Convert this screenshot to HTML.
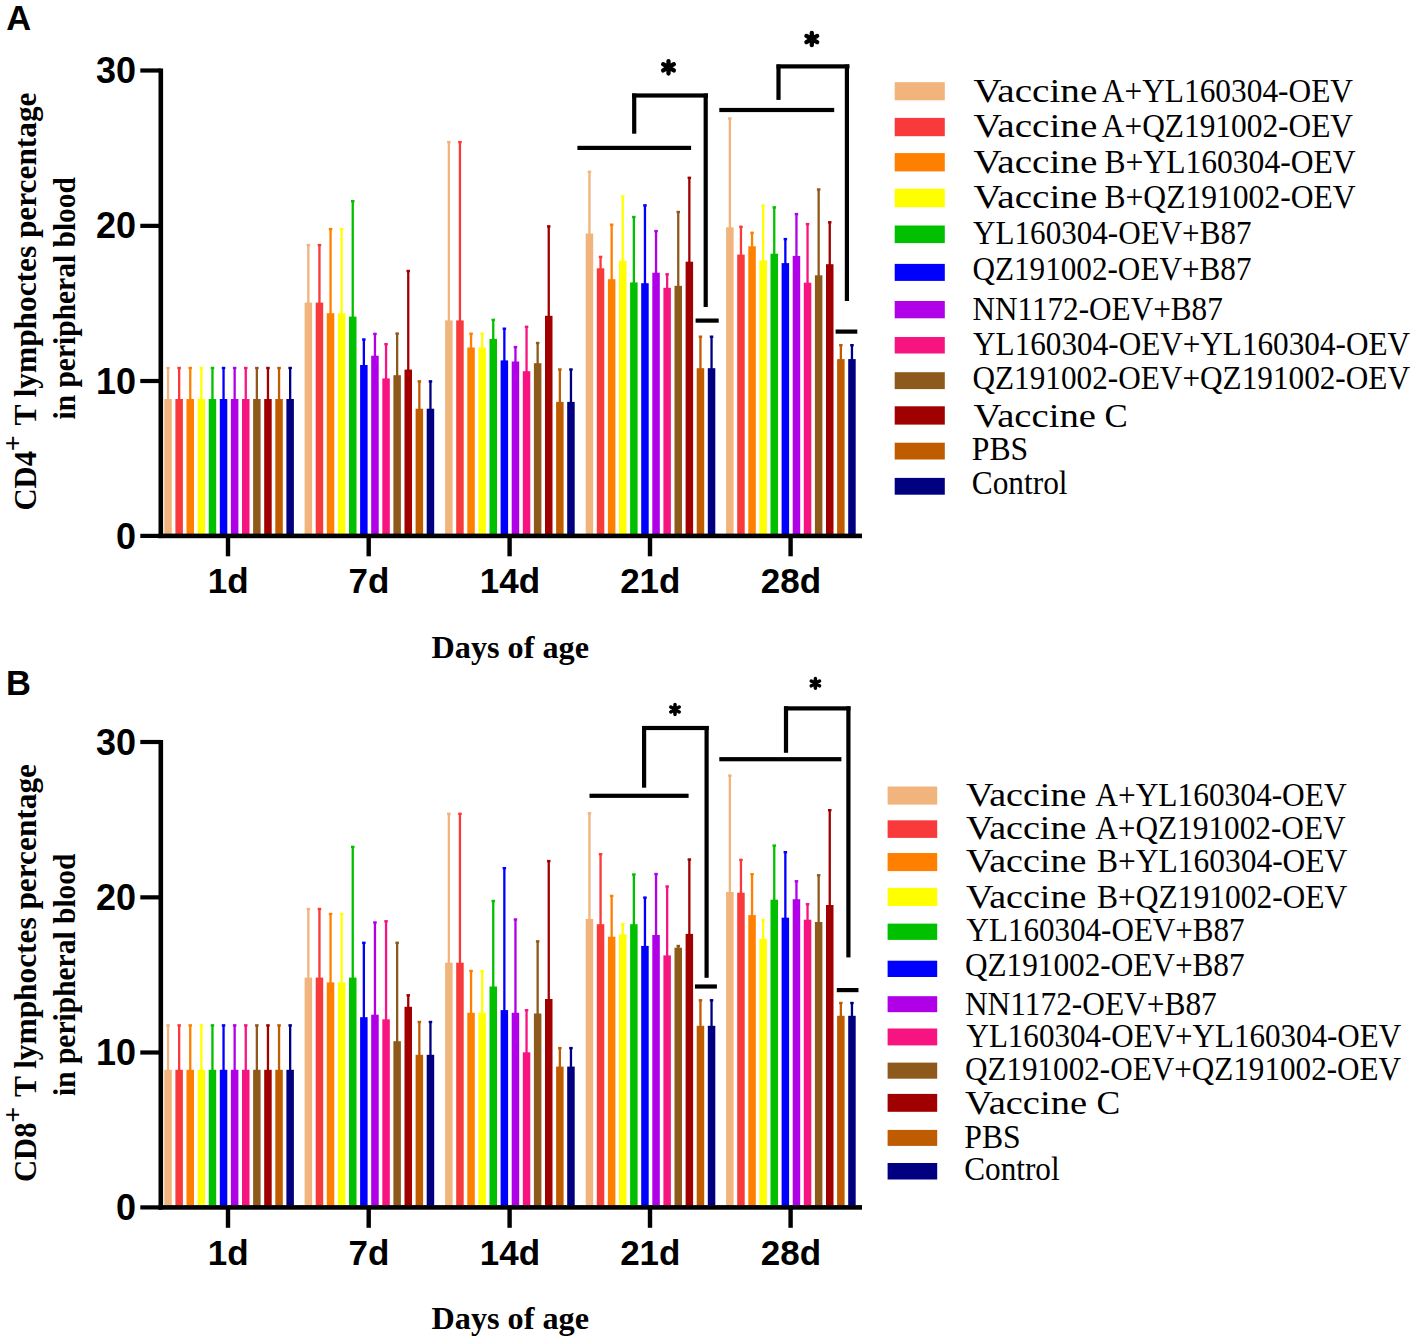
<!DOCTYPE html>
<html><head><meta charset="utf-8"><title>CD4/CD8 T lymphocytes chart</title><style>
html,body{margin:0;padding:0;background:#fff;}
svg{display:block;}
.tk{font-family:"Liberation Sans",sans-serif;font-weight:bold;font-size:36px;fill:#000;}
.xl{font-family:"Liberation Sans",sans-serif;font-weight:bold;font-size:35px;fill:#000;}
.pl{font-family:"Liberation Sans",sans-serif;font-weight:bold;font-size:34.5px;fill:#000;}
.ast{font-family:"Liberation Sans",sans-serif;font-weight:bold;font-size:34px;fill:#000;}
.lg{font-family:"Liberation Serif",serif;font-size:33px;fill:#000;}
.yl{font-family:"Liberation Serif",serif;font-weight:bold;font-size:31.5px;fill:#000;}
.sup{font-size:28px;}
.dl{font-family:"Liberation Serif",serif;font-weight:bold;font-size:32.5px;fill:#000;}
</style></head><body>
<svg width="1417" height="1343" viewBox="0 0 1417 1343">
<rect width="1417" height="1343" fill="#fff"/>
<rect x="166.9" y="367.4" width="2.3" height="32.6" fill="#F0B47C"/>
<rect x="166.3" y="366.8" width="3.5" height="2.4" fill="#F0B47C"/>
<rect x="164.3" y="399" width="7.5" height="135.2" fill="#F0B47C"/>
<rect x="178" y="367.4" width="2.3" height="32.6" fill="#F83A3A"/>
<rect x="177.4" y="366.8" width="3.5" height="2.4" fill="#F83A3A"/>
<rect x="175.4" y="399" width="7.5" height="135.2" fill="#F83A3A"/>
<rect x="189.1" y="367.4" width="2.3" height="32.6" fill="#FF8000"/>
<rect x="188.5" y="366.8" width="3.5" height="2.4" fill="#FF8000"/>
<rect x="186.5" y="399" width="7.5" height="135.2" fill="#FF8000"/>
<rect x="200.2" y="367.4" width="2.3" height="32.6" fill="#FFFF00"/>
<rect x="199.6" y="366.8" width="3.5" height="2.4" fill="#FFFF00"/>
<rect x="197.6" y="399" width="7.5" height="135.2" fill="#FFFF00"/>
<rect x="211.3" y="367.4" width="2.3" height="32.6" fill="#00C000"/>
<rect x="210.7" y="366.8" width="3.5" height="2.4" fill="#00C000"/>
<rect x="208.7" y="399" width="7.5" height="135.2" fill="#00C000"/>
<rect x="222.4" y="367.4" width="2.3" height="32.6" fill="#0000FF"/>
<rect x="221.8" y="366.8" width="3.5" height="2.4" fill="#0000FF"/>
<rect x="219.8" y="399" width="7.5" height="135.2" fill="#0000FF"/>
<rect x="233.5" y="367.4" width="2.3" height="32.6" fill="#B000E8"/>
<rect x="232.9" y="366.8" width="3.5" height="2.4" fill="#B000E8"/>
<rect x="230.9" y="399" width="7.5" height="135.2" fill="#B000E8"/>
<rect x="244.6" y="367.4" width="2.3" height="32.6" fill="#F81480"/>
<rect x="244" y="366.8" width="3.5" height="2.4" fill="#F81480"/>
<rect x="242" y="399" width="7.5" height="135.2" fill="#F81480"/>
<rect x="255.7" y="367.4" width="2.3" height="32.6" fill="#8E5A1C"/>
<rect x="255.1" y="366.8" width="3.5" height="2.4" fill="#8E5A1C"/>
<rect x="253.1" y="399" width="7.5" height="135.2" fill="#8E5A1C"/>
<rect x="266.8" y="367.4" width="2.3" height="32.6" fill="#A00000"/>
<rect x="266.2" y="366.8" width="3.5" height="2.4" fill="#A00000"/>
<rect x="264.2" y="399" width="7.5" height="135.2" fill="#A00000"/>
<rect x="277.9" y="367.4" width="2.3" height="32.6" fill="#C05C00"/>
<rect x="277.3" y="366.8" width="3.5" height="2.4" fill="#C05C00"/>
<rect x="275.3" y="399" width="7.5" height="135.2" fill="#C05C00"/>
<rect x="289" y="367.4" width="2.3" height="32.6" fill="#000080"/>
<rect x="288.4" y="366.8" width="3.5" height="2.4" fill="#000080"/>
<rect x="286.4" y="399" width="7.5" height="135.2" fill="#000080"/>
<rect x="307.2" y="244.5" width="2.3" height="59.1" fill="#F0B47C"/>
<rect x="306.6" y="243.9" width="3.5" height="2.4" fill="#F0B47C"/>
<rect x="304.6" y="302.6" width="7.5" height="231.6" fill="#F0B47C"/>
<rect x="318.3" y="244.5" width="2.3" height="59.1" fill="#F83A3A"/>
<rect x="317.7" y="243.9" width="3.5" height="2.4" fill="#F83A3A"/>
<rect x="315.7" y="302.6" width="7.5" height="231.6" fill="#F83A3A"/>
<rect x="329.4" y="228.5" width="2.3" height="85.7" fill="#FF8000"/>
<rect x="328.8" y="227.9" width="3.5" height="2.4" fill="#FF8000"/>
<rect x="326.8" y="313.2" width="7.5" height="221" fill="#FF8000"/>
<rect x="340.5" y="228.5" width="2.3" height="85.7" fill="#FFFF00"/>
<rect x="339.9" y="227.9" width="3.5" height="2.4" fill="#FFFF00"/>
<rect x="337.9" y="313.2" width="7.5" height="221" fill="#FFFF00"/>
<rect x="351.6" y="200.6" width="2.3" height="117" fill="#00C000"/>
<rect x="351" y="200" width="3.5" height="2.4" fill="#00C000"/>
<rect x="349" y="316.6" width="7.5" height="217.6" fill="#00C000"/>
<rect x="362.7" y="338.9" width="2.3" height="27.1" fill="#0000FF"/>
<rect x="362.1" y="338.3" width="3.5" height="2.4" fill="#0000FF"/>
<rect x="360.1" y="365" width="7.5" height="169.2" fill="#0000FF"/>
<rect x="373.8" y="333.3" width="2.3" height="23.4" fill="#B000E8"/>
<rect x="373.2" y="332.7" width="3.5" height="2.4" fill="#B000E8"/>
<rect x="371.2" y="355.7" width="7.5" height="178.5" fill="#B000E8"/>
<rect x="384.9" y="343.6" width="2.3" height="35.8" fill="#F81480"/>
<rect x="384.3" y="343" width="3.5" height="2.4" fill="#F81480"/>
<rect x="382.3" y="378.4" width="7.5" height="155.8" fill="#F81480"/>
<rect x="396" y="333" width="2.3" height="43.2" fill="#8E5A1C"/>
<rect x="395.4" y="332.4" width="3.5" height="2.4" fill="#8E5A1C"/>
<rect x="393.4" y="375.2" width="7.5" height="159" fill="#8E5A1C"/>
<rect x="407.1" y="270.4" width="2.3" height="100.2" fill="#A00000"/>
<rect x="406.5" y="269.8" width="3.5" height="2.4" fill="#A00000"/>
<rect x="404.5" y="369.6" width="7.5" height="164.6" fill="#A00000"/>
<rect x="418.2" y="380.8" width="2.3" height="28.9" fill="#C05C00"/>
<rect x="417.6" y="380.2" width="3.5" height="2.4" fill="#C05C00"/>
<rect x="415.6" y="408.7" width="7.5" height="125.5" fill="#C05C00"/>
<rect x="429.3" y="380.8" width="2.3" height="28.9" fill="#000080"/>
<rect x="428.7" y="380.2" width="3.5" height="2.4" fill="#000080"/>
<rect x="426.7" y="408.7" width="7.5" height="125.5" fill="#000080"/>
<rect x="447.7" y="141.5" width="2.3" height="179.9" fill="#F0B47C"/>
<rect x="447.1" y="140.9" width="3.5" height="2.4" fill="#F0B47C"/>
<rect x="445.1" y="320.4" width="7.5" height="213.8" fill="#F0B47C"/>
<rect x="458.8" y="141.5" width="2.3" height="179.9" fill="#F83A3A"/>
<rect x="458.2" y="140.9" width="3.5" height="2.4" fill="#F83A3A"/>
<rect x="456.2" y="320.4" width="7.5" height="213.8" fill="#F83A3A"/>
<rect x="469.9" y="333.1" width="2.3" height="15.4" fill="#FF8000"/>
<rect x="469.3" y="332.5" width="3.5" height="2.4" fill="#FF8000"/>
<rect x="467.3" y="347.5" width="7.5" height="186.7" fill="#FF8000"/>
<rect x="481" y="333.1" width="2.3" height="15.4" fill="#FFFF00"/>
<rect x="480.4" y="332.5" width="3.5" height="2.4" fill="#FFFF00"/>
<rect x="478.4" y="347.5" width="7.5" height="186.7" fill="#FFFF00"/>
<rect x="492.1" y="319.3" width="2.3" height="20.6" fill="#00C000"/>
<rect x="491.5" y="318.7" width="3.5" height="2.4" fill="#00C000"/>
<rect x="489.5" y="338.9" width="7.5" height="195.3" fill="#00C000"/>
<rect x="503.2" y="328.1" width="2.3" height="33.3" fill="#0000FF"/>
<rect x="502.6" y="327.5" width="3.5" height="2.4" fill="#0000FF"/>
<rect x="500.6" y="360.4" width="7.5" height="173.8" fill="#0000FF"/>
<rect x="514.3" y="346.5" width="2.3" height="16" fill="#B000E8"/>
<rect x="513.7" y="345.9" width="3.5" height="2.4" fill="#B000E8"/>
<rect x="511.7" y="361.5" width="7.5" height="172.7" fill="#B000E8"/>
<rect x="525.4" y="326.2" width="2.3" height="46" fill="#F81480"/>
<rect x="524.8" y="325.6" width="3.5" height="2.4" fill="#F81480"/>
<rect x="522.8" y="371.2" width="7.5" height="163" fill="#F81480"/>
<rect x="536.5" y="342.4" width="2.3" height="21.8" fill="#8E5A1C"/>
<rect x="535.9" y="341.8" width="3.5" height="2.4" fill="#8E5A1C"/>
<rect x="533.9" y="363.2" width="7.5" height="171" fill="#8E5A1C"/>
<rect x="547.6" y="225.8" width="2.3" height="91" fill="#A00000"/>
<rect x="547" y="225.2" width="3.5" height="2.4" fill="#A00000"/>
<rect x="545" y="315.8" width="7.5" height="218.4" fill="#A00000"/>
<rect x="558.7" y="368.9" width="2.3" height="34" fill="#C05C00"/>
<rect x="558.1" y="368.3" width="3.5" height="2.4" fill="#C05C00"/>
<rect x="556.1" y="401.9" width="7.5" height="132.3" fill="#C05C00"/>
<rect x="569.8" y="368.9" width="2.3" height="34" fill="#000080"/>
<rect x="569.2" y="368.3" width="3.5" height="2.4" fill="#000080"/>
<rect x="567.2" y="401.9" width="7.5" height="132.3" fill="#000080"/>
<rect x="588.3" y="171.2" width="2.3" height="63.3" fill="#F0B47C"/>
<rect x="587.7" y="170.6" width="3.5" height="2.4" fill="#F0B47C"/>
<rect x="585.7" y="233.5" width="7.5" height="300.7" fill="#F0B47C"/>
<rect x="599.4" y="256.3" width="2.3" height="13" fill="#F83A3A"/>
<rect x="598.8" y="255.7" width="3.5" height="2.4" fill="#F83A3A"/>
<rect x="596.8" y="268.3" width="7.5" height="265.9" fill="#F83A3A"/>
<rect x="610.5" y="224.1" width="2.3" height="56.1" fill="#FF8000"/>
<rect x="609.9" y="223.5" width="3.5" height="2.4" fill="#FF8000"/>
<rect x="607.9" y="279.2" width="7.5" height="255" fill="#FF8000"/>
<rect x="621.6" y="195.9" width="2.3" height="65.8" fill="#FFFF00"/>
<rect x="621" y="195.3" width="3.5" height="2.4" fill="#FFFF00"/>
<rect x="619" y="260.7" width="7.5" height="273.5" fill="#FFFF00"/>
<rect x="632.7" y="216.4" width="2.3" height="67" fill="#00C000"/>
<rect x="632.1" y="215.8" width="3.5" height="2.4" fill="#00C000"/>
<rect x="630.1" y="282.4" width="7.5" height="251.8" fill="#00C000"/>
<rect x="643.8" y="204.8" width="2.3" height="79.4" fill="#0000FF"/>
<rect x="643.2" y="204.2" width="3.5" height="2.4" fill="#0000FF"/>
<rect x="641.2" y="283.2" width="7.5" height="251" fill="#0000FF"/>
<rect x="654.9" y="230.5" width="2.3" height="43.2" fill="#B000E8"/>
<rect x="654.3" y="229.9" width="3.5" height="2.4" fill="#B000E8"/>
<rect x="652.3" y="272.7" width="7.5" height="261.5" fill="#B000E8"/>
<rect x="666" y="273.7" width="2.3" height="15.1" fill="#F81480"/>
<rect x="665.4" y="273.1" width="3.5" height="2.4" fill="#F81480"/>
<rect x="663.4" y="287.8" width="7.5" height="246.4" fill="#F81480"/>
<rect x="677.1" y="211.4" width="2.3" height="75.4" fill="#8E5A1C"/>
<rect x="676.5" y="210.8" width="3.5" height="2.4" fill="#8E5A1C"/>
<rect x="674.5" y="285.8" width="7.5" height="248.4" fill="#8E5A1C"/>
<rect x="688.2" y="177.2" width="2.3" height="85.5" fill="#A00000"/>
<rect x="687.6" y="176.6" width="3.5" height="2.4" fill="#A00000"/>
<rect x="685.6" y="261.7" width="7.5" height="272.5" fill="#A00000"/>
<rect x="699.3" y="336.1" width="2.3" height="33.1" fill="#C05C00"/>
<rect x="698.7" y="335.5" width="3.5" height="2.4" fill="#C05C00"/>
<rect x="696.7" y="368.2" width="7.5" height="166" fill="#C05C00"/>
<rect x="710.4" y="336.1" width="2.3" height="33.1" fill="#000080"/>
<rect x="709.8" y="335.5" width="3.5" height="2.4" fill="#000080"/>
<rect x="707.8" y="368.2" width="7.5" height="166" fill="#000080"/>
<rect x="728.7" y="117.9" width="2.3" height="110.4" fill="#F0B47C"/>
<rect x="728.1" y="117.3" width="3.5" height="2.4" fill="#F0B47C"/>
<rect x="726.1" y="227.3" width="7.5" height="306.9" fill="#F0B47C"/>
<rect x="739.8" y="226.2" width="2.3" height="29.4" fill="#F83A3A"/>
<rect x="739.2" y="225.6" width="3.5" height="2.4" fill="#F83A3A"/>
<rect x="737.2" y="254.6" width="7.5" height="279.6" fill="#F83A3A"/>
<rect x="750.9" y="232.2" width="2.3" height="15.1" fill="#FF8000"/>
<rect x="750.3" y="231.6" width="3.5" height="2.4" fill="#FF8000"/>
<rect x="748.3" y="246.3" width="7.5" height="287.9" fill="#FF8000"/>
<rect x="762" y="205" width="2.3" height="56.4" fill="#FFFF00"/>
<rect x="761.4" y="204.4" width="3.5" height="2.4" fill="#FFFF00"/>
<rect x="759.4" y="260.4" width="7.5" height="273.8" fill="#FFFF00"/>
<rect x="773.1" y="206.8" width="2.3" height="47.9" fill="#00C000"/>
<rect x="772.5" y="206.2" width="3.5" height="2.4" fill="#00C000"/>
<rect x="770.5" y="253.7" width="7.5" height="280.5" fill="#00C000"/>
<rect x="784.2" y="238.5" width="2.3" height="25.6" fill="#0000FF"/>
<rect x="783.6" y="237.9" width="3.5" height="2.4" fill="#0000FF"/>
<rect x="781.6" y="263.1" width="7.5" height="271.1" fill="#0000FF"/>
<rect x="795.3" y="213.5" width="2.3" height="43.4" fill="#B000E8"/>
<rect x="794.7" y="212.9" width="3.5" height="2.4" fill="#B000E8"/>
<rect x="792.7" y="255.9" width="7.5" height="278.3" fill="#B000E8"/>
<rect x="806.4" y="223.5" width="2.3" height="60.2" fill="#F81480"/>
<rect x="805.8" y="222.9" width="3.5" height="2.4" fill="#F81480"/>
<rect x="803.8" y="282.7" width="7.5" height="251.5" fill="#F81480"/>
<rect x="817.5" y="188.9" width="2.3" height="87.4" fill="#8E5A1C"/>
<rect x="816.9" y="188.3" width="3.5" height="2.4" fill="#8E5A1C"/>
<rect x="814.9" y="275.3" width="7.5" height="258.9" fill="#8E5A1C"/>
<rect x="828.6" y="221.7" width="2.3" height="43.5" fill="#A00000"/>
<rect x="828" y="221.1" width="3.5" height="2.4" fill="#A00000"/>
<rect x="826" y="264.2" width="7.5" height="270" fill="#A00000"/>
<rect x="839.7" y="344.6" width="2.3" height="15.5" fill="#C05C00"/>
<rect x="839.1" y="344" width="3.5" height="2.4" fill="#C05C00"/>
<rect x="837.1" y="359.1" width="7.5" height="175.1" fill="#C05C00"/>
<rect x="850.8" y="344.6" width="2.3" height="15.5" fill="#000080"/>
<rect x="850.2" y="344" width="3.5" height="2.4" fill="#000080"/>
<rect x="848.2" y="359.1" width="7.5" height="175.1" fill="#000080"/>
<rect x="158.5" y="68.5" width="4.6" height="469.6" fill="#000"/>
<rect x="158.5" y="533.6" width="703.5" height="4.6" fill="#000"/>
<rect x="140.3" y="68.4" width="20.5" height="4.2" fill="#000"/>
<text x="136" y="83.1" class="tk" text-anchor="end">30</text>
<rect x="140.3" y="223.75" width="20.5" height="4.2" fill="#000"/>
<text x="136" y="238.45" class="tk" text-anchor="end">20</text>
<rect x="140.3" y="378.9" width="20.5" height="4.2" fill="#000"/>
<text x="136" y="393.6" class="tk" text-anchor="end">10</text>
<rect x="140.3" y="533.8" width="20.5" height="4.2" fill="#000"/>
<text x="136" y="548.5" class="tk" text-anchor="end">0</text>
<rect x="225.8" y="535.9" width="4.4" height="20.4" fill="#000"/>
<text x="228.3" y="593.4" class="xl" text-anchor="middle">1d</text>
<rect x="366.5" y="535.9" width="4.4" height="20.4" fill="#000"/>
<text x="369" y="593.4" class="xl" text-anchor="middle">7d</text>
<rect x="507.4" y="535.9" width="4.4" height="20.4" fill="#000"/>
<text x="509.9" y="593.4" class="xl" text-anchor="middle">14d</text>
<rect x="647.8" y="535.9" width="4.4" height="20.4" fill="#000"/>
<text x="650.3" y="593.4" class="xl" text-anchor="middle">21d</text>
<rect x="788.4" y="535.9" width="4.4" height="20.4" fill="#000"/>
<text x="790.9" y="593.4" class="xl" text-anchor="middle">28d</text>
<rect x="577.4" y="145.8" width="113.7" height="4.2" fill="#000"/>
<rect x="632.1" y="93.5" width="4.2" height="40.2" fill="#000"/>
<rect x="632" y="93.4" width="76" height="4.2" fill="#000"/>
<rect x="703.6" y="93.5" width="4.2" height="213.5" fill="#000"/>
<rect x="695.6" y="318.5" width="23.1" height="4.2" fill="#000"/>
<path d="M668.5 61.1L668.5 73.5M663.13 64.2L673.87 70.4M663.13 70.4L673.87 64.2" stroke="#000" stroke-width="4.3" stroke-linecap="round" fill="none"/>
<rect x="719.3" y="107.9" width="114.9" height="4.2" fill="#000"/>
<rect x="776.4" y="64.5" width="4.2" height="35.4" fill="#000"/>
<rect x="776.5" y="64.3" width="73" height="4.2" fill="#000"/>
<rect x="844.8" y="64.5" width="4.2" height="236.5" fill="#000"/>
<rect x="835.6" y="329.5" width="21.7" height="4.2" fill="#000"/>
<path d="M811.8 32.8L811.8 45.2M806.43 35.9L817.17 42.1M806.43 42.1L817.17 35.9" stroke="#000" stroke-width="4.3" stroke-linecap="round" fill="none"/>
<text x="6.3" y="29.8" class="pl">A</text>
<rect x="894.7" y="82.2" width="50.1" height="18.1" fill="#F0B47C"/>
<text x="973.4" y="101.9" class="lg" textLength="123.9" lengthAdjust="spacingAndGlyphs">Vaccine</text>
<text x="1101.8" y="101.9" class="lg" textLength="251.2" lengthAdjust="spacingAndGlyphs">A+YL160304-OEV</text>
<rect x="894.7" y="117.9" width="50.1" height="18.3" fill="#F83A3A"/>
<text x="973.4" y="137.4" class="lg" textLength="123.9" lengthAdjust="spacingAndGlyphs">Vaccine</text>
<text x="1101.8" y="137.4" class="lg" textLength="251.2" lengthAdjust="spacingAndGlyphs">A+QZ191002-OEV</text>
<rect x="894.7" y="153.1" width="50.1" height="18.3" fill="#FF8000"/>
<text x="973.4" y="172.7" class="lg" textLength="123.9" lengthAdjust="spacingAndGlyphs">Vaccine</text>
<text x="1104.5" y="172.7" class="lg" textLength="251.1" lengthAdjust="spacingAndGlyphs">B+YL160304-OEV</text>
<rect x="894.7" y="188.7" width="50.1" height="18.5" fill="#FFFF00"/>
<text x="973.4" y="208.2" class="lg" textLength="123.9" lengthAdjust="spacingAndGlyphs">Vaccine</text>
<text x="1104.5" y="208.2" class="lg" textLength="251.1" lengthAdjust="spacingAndGlyphs">B+QZ191002-OEV</text>
<rect x="894.7" y="225.5" width="50.1" height="17.6" fill="#00C000"/>
<text x="973.1" y="243.9" class="lg" textLength="278.4" lengthAdjust="spacingAndGlyphs">YL160304-OEV+B87</text>
<rect x="894.7" y="263.9" width="50.1" height="17" fill="#0000FF"/>
<text x="972.4" y="280.3" class="lg" textLength="279.1" lengthAdjust="spacingAndGlyphs">QZ191002-OEV+B87</text>
<rect x="894.7" y="301" width="50.1" height="17.3" fill="#B000E8"/>
<text x="972.4" y="319.9" class="lg" textLength="250.4" lengthAdjust="spacingAndGlyphs">NN1172-OEV+B87</text>
<rect x="894.7" y="337" width="50.1" height="16.5" fill="#F81480"/>
<text x="973.1" y="354.6" class="lg" textLength="436.9" lengthAdjust="spacingAndGlyphs">YL160304-OEV+YL160304-OEV</text>
<rect x="894.7" y="372.2" width="50.1" height="16.9" fill="#8E5A1C"/>
<text x="972.4" y="389.2" class="lg" textLength="437.6" lengthAdjust="spacingAndGlyphs">QZ191002-OEV+QZ191002-OEV</text>
<rect x="894.7" y="406.3" width="50.1" height="18.3" fill="#A00000"/>
<text x="973.5" y="426.7" class="lg" textLength="122.5" lengthAdjust="spacingAndGlyphs">Vaccine</text>
<text x="1104.5" y="426.7" class="lg" textLength="23.2" lengthAdjust="spacingAndGlyphs">C</text>
<rect x="894.7" y="442.7" width="50.1" height="16.8" fill="#C05C00"/>
<text x="971.8" y="460.3" class="lg" textLength="56.4" lengthAdjust="spacingAndGlyphs">PBS</text>
<rect x="894.7" y="477.9" width="50.1" height="16.8" fill="#000080"/>
<text x="971.8" y="493.9" class="lg" textLength="95.7" lengthAdjust="spacingAndGlyphs">Control</text>
<text transform="translate(36,510.5) rotate(-90)" class="yl" textLength="59.5" lengthAdjust="spacingAndGlyphs">CD4</text>
<text transform="translate(21.5,451.3) rotate(-90)" class="yl sup">+</text>
<text transform="translate(36,425.5) rotate(-90)" class="yl" textLength="333" lengthAdjust="spacingAndGlyphs">T lymphoctes percentage</text>
<text transform="translate(75,419.5) rotate(-90)" class="yl" textLength="242.5" lengthAdjust="spacingAndGlyphs">in peripheral blood</text>
<text x="431.5" y="657.5" class="dl" textLength="157.5" lengthAdjust="spacingAndGlyphs">Days of age</text>
<rect x="166.9" y="1024.8" width="2.3" height="46" fill="#F0B47C"/>
<rect x="166.3" y="1024.2" width="3.5" height="2.4" fill="#F0B47C"/>
<rect x="164.3" y="1069.8" width="7.5" height="135.9" fill="#F0B47C"/>
<rect x="178" y="1024.8" width="2.3" height="46" fill="#F83A3A"/>
<rect x="177.4" y="1024.2" width="3.5" height="2.4" fill="#F83A3A"/>
<rect x="175.4" y="1069.8" width="7.5" height="135.9" fill="#F83A3A"/>
<rect x="189.1" y="1024.8" width="2.3" height="46" fill="#FF8000"/>
<rect x="188.5" y="1024.2" width="3.5" height="2.4" fill="#FF8000"/>
<rect x="186.5" y="1069.8" width="7.5" height="135.9" fill="#FF8000"/>
<rect x="200.2" y="1024.8" width="2.3" height="46" fill="#FFFF00"/>
<rect x="199.6" y="1024.2" width="3.5" height="2.4" fill="#FFFF00"/>
<rect x="197.6" y="1069.8" width="7.5" height="135.9" fill="#FFFF00"/>
<rect x="211.3" y="1024.8" width="2.3" height="46" fill="#00C000"/>
<rect x="210.7" y="1024.2" width="3.5" height="2.4" fill="#00C000"/>
<rect x="208.7" y="1069.8" width="7.5" height="135.9" fill="#00C000"/>
<rect x="222.4" y="1024.8" width="2.3" height="46" fill="#0000FF"/>
<rect x="221.8" y="1024.2" width="3.5" height="2.4" fill="#0000FF"/>
<rect x="219.8" y="1069.8" width="7.5" height="135.9" fill="#0000FF"/>
<rect x="233.5" y="1024.8" width="2.3" height="46" fill="#B000E8"/>
<rect x="232.9" y="1024.2" width="3.5" height="2.4" fill="#B000E8"/>
<rect x="230.9" y="1069.8" width="7.5" height="135.9" fill="#B000E8"/>
<rect x="244.6" y="1024.8" width="2.3" height="46" fill="#F81480"/>
<rect x="244" y="1024.2" width="3.5" height="2.4" fill="#F81480"/>
<rect x="242" y="1069.8" width="7.5" height="135.9" fill="#F81480"/>
<rect x="255.7" y="1024.8" width="2.3" height="46" fill="#8E5A1C"/>
<rect x="255.1" y="1024.2" width="3.5" height="2.4" fill="#8E5A1C"/>
<rect x="253.1" y="1069.8" width="7.5" height="135.9" fill="#8E5A1C"/>
<rect x="266.8" y="1024.8" width="2.3" height="46" fill="#A00000"/>
<rect x="266.2" y="1024.2" width="3.5" height="2.4" fill="#A00000"/>
<rect x="264.2" y="1069.8" width="7.5" height="135.9" fill="#A00000"/>
<rect x="277.9" y="1024.8" width="2.3" height="46" fill="#C05C00"/>
<rect x="277.3" y="1024.2" width="3.5" height="2.4" fill="#C05C00"/>
<rect x="275.3" y="1069.8" width="7.5" height="135.9" fill="#C05C00"/>
<rect x="289" y="1024.8" width="2.3" height="46" fill="#000080"/>
<rect x="288.4" y="1024.2" width="3.5" height="2.4" fill="#000080"/>
<rect x="286.4" y="1069.8" width="7.5" height="135.9" fill="#000080"/>
<rect x="307.2" y="908.4" width="2.3" height="70.2" fill="#F0B47C"/>
<rect x="306.6" y="907.8" width="3.5" height="2.4" fill="#F0B47C"/>
<rect x="304.6" y="977.6" width="7.5" height="228.1" fill="#F0B47C"/>
<rect x="318.3" y="908.4" width="2.3" height="70.2" fill="#F83A3A"/>
<rect x="317.7" y="907.8" width="3.5" height="2.4" fill="#F83A3A"/>
<rect x="315.7" y="977.6" width="7.5" height="228.1" fill="#F83A3A"/>
<rect x="329.4" y="913.4" width="2.3" height="70" fill="#FF8000"/>
<rect x="328.8" y="912.8" width="3.5" height="2.4" fill="#FF8000"/>
<rect x="326.8" y="982.4" width="7.5" height="223.3" fill="#FF8000"/>
<rect x="340.5" y="913.4" width="2.3" height="70" fill="#FFFF00"/>
<rect x="339.9" y="912.8" width="3.5" height="2.4" fill="#FFFF00"/>
<rect x="337.9" y="982.4" width="7.5" height="223.3" fill="#FFFF00"/>
<rect x="351.6" y="846.3" width="2.3" height="132.3" fill="#00C000"/>
<rect x="351" y="845.7" width="3.5" height="2.4" fill="#00C000"/>
<rect x="349" y="977.6" width="7.5" height="228.1" fill="#00C000"/>
<rect x="362.7" y="942.2" width="2.3" height="76" fill="#0000FF"/>
<rect x="362.1" y="941.6" width="3.5" height="2.4" fill="#0000FF"/>
<rect x="360.1" y="1017.2" width="7.5" height="188.5" fill="#0000FF"/>
<rect x="373.8" y="921.9" width="2.3" height="93.8" fill="#B000E8"/>
<rect x="373.2" y="921.3" width="3.5" height="2.4" fill="#B000E8"/>
<rect x="371.2" y="1014.7" width="7.5" height="191" fill="#B000E8"/>
<rect x="384.9" y="920.7" width="2.3" height="99.6" fill="#F81480"/>
<rect x="384.3" y="920.1" width="3.5" height="2.4" fill="#F81480"/>
<rect x="382.3" y="1019.3" width="7.5" height="186.4" fill="#F81480"/>
<rect x="396" y="942.2" width="2.3" height="100" fill="#8E5A1C"/>
<rect x="395.4" y="941.6" width="3.5" height="2.4" fill="#8E5A1C"/>
<rect x="393.4" y="1041.2" width="7.5" height="164.5" fill="#8E5A1C"/>
<rect x="407.1" y="994.7" width="2.3" height="13.1" fill="#A00000"/>
<rect x="406.5" y="994.1" width="3.5" height="2.4" fill="#A00000"/>
<rect x="404.5" y="1006.8" width="7.5" height="198.9" fill="#A00000"/>
<rect x="418.2" y="1021.4" width="2.3" height="34.4" fill="#C05C00"/>
<rect x="417.6" y="1020.8" width="3.5" height="2.4" fill="#C05C00"/>
<rect x="415.6" y="1054.8" width="7.5" height="150.9" fill="#C05C00"/>
<rect x="429.3" y="1021.4" width="2.3" height="34.4" fill="#000080"/>
<rect x="428.7" y="1020.8" width="3.5" height="2.4" fill="#000080"/>
<rect x="426.7" y="1054.8" width="7.5" height="150.9" fill="#000080"/>
<rect x="447.7" y="813.2" width="2.3" height="150.5" fill="#F0B47C"/>
<rect x="447.1" y="812.6" width="3.5" height="2.4" fill="#F0B47C"/>
<rect x="445.1" y="962.7" width="7.5" height="243" fill="#F0B47C"/>
<rect x="458.8" y="813.2" width="2.3" height="150.5" fill="#F83A3A"/>
<rect x="458.2" y="812.6" width="3.5" height="2.4" fill="#F83A3A"/>
<rect x="456.2" y="962.7" width="7.5" height="243" fill="#F83A3A"/>
<rect x="469.9" y="970.4" width="2.3" height="43.4" fill="#FF8000"/>
<rect x="469.3" y="969.8" width="3.5" height="2.4" fill="#FF8000"/>
<rect x="467.3" y="1012.8" width="7.5" height="192.9" fill="#FF8000"/>
<rect x="481" y="970.4" width="2.3" height="43.4" fill="#FFFF00"/>
<rect x="480.4" y="969.8" width="3.5" height="2.4" fill="#FFFF00"/>
<rect x="478.4" y="1012.8" width="7.5" height="192.9" fill="#FFFF00"/>
<rect x="492.1" y="900.4" width="2.3" height="87.1" fill="#00C000"/>
<rect x="491.5" y="899.8" width="3.5" height="2.4" fill="#00C000"/>
<rect x="489.5" y="986.5" width="7.5" height="219.2" fill="#00C000"/>
<rect x="503.2" y="867.6" width="2.3" height="143.5" fill="#0000FF"/>
<rect x="502.6" y="867" width="3.5" height="2.4" fill="#0000FF"/>
<rect x="500.6" y="1010.1" width="7.5" height="195.6" fill="#0000FF"/>
<rect x="514.3" y="918.9" width="2.3" height="94.9" fill="#B000E8"/>
<rect x="513.7" y="918.3" width="3.5" height="2.4" fill="#B000E8"/>
<rect x="511.7" y="1012.8" width="7.5" height="192.9" fill="#B000E8"/>
<rect x="525.4" y="1009.6" width="2.3" height="43.7" fill="#F81480"/>
<rect x="524.8" y="1009" width="3.5" height="2.4" fill="#F81480"/>
<rect x="522.8" y="1052.3" width="7.5" height="153.4" fill="#F81480"/>
<rect x="536.5" y="940.8" width="2.3" height="73.7" fill="#8E5A1C"/>
<rect x="535.9" y="940.2" width="3.5" height="2.4" fill="#8E5A1C"/>
<rect x="533.9" y="1013.5" width="7.5" height="192.2" fill="#8E5A1C"/>
<rect x="547.6" y="860.5" width="2.3" height="139.5" fill="#A00000"/>
<rect x="547" y="859.9" width="3.5" height="2.4" fill="#A00000"/>
<rect x="545" y="999" width="7.5" height="206.7" fill="#A00000"/>
<rect x="558.7" y="1047.5" width="2.3" height="20.1" fill="#C05C00"/>
<rect x="558.1" y="1046.9" width="3.5" height="2.4" fill="#C05C00"/>
<rect x="556.1" y="1066.6" width="7.5" height="139.1" fill="#C05C00"/>
<rect x="569.8" y="1047.5" width="2.3" height="20.1" fill="#000080"/>
<rect x="569.2" y="1046.9" width="3.5" height="2.4" fill="#000080"/>
<rect x="567.2" y="1066.6" width="7.5" height="139.1" fill="#000080"/>
<rect x="588.3" y="812.7" width="2.3" height="107.2" fill="#F0B47C"/>
<rect x="587.7" y="812.1" width="3.5" height="2.4" fill="#F0B47C"/>
<rect x="585.7" y="918.9" width="7.5" height="286.8" fill="#F0B47C"/>
<rect x="599.4" y="853.6" width="2.3" height="71.6" fill="#F83A3A"/>
<rect x="598.8" y="853" width="3.5" height="2.4" fill="#F83A3A"/>
<rect x="596.8" y="924.2" width="7.5" height="281.5" fill="#F83A3A"/>
<rect x="610.5" y="895.3" width="2.3" height="42.4" fill="#FF8000"/>
<rect x="609.9" y="894.7" width="3.5" height="2.4" fill="#FF8000"/>
<rect x="607.9" y="936.7" width="7.5" height="269" fill="#FF8000"/>
<rect x="621.6" y="923.5" width="2.3" height="11.9" fill="#FFFF00"/>
<rect x="621" y="922.9" width="3.5" height="2.4" fill="#FFFF00"/>
<rect x="619" y="934.4" width="7.5" height="271.3" fill="#FFFF00"/>
<rect x="632.7" y="873.9" width="2.3" height="51.3" fill="#00C000"/>
<rect x="632.1" y="873.3" width="3.5" height="2.4" fill="#00C000"/>
<rect x="630.1" y="924.2" width="7.5" height="281.5" fill="#00C000"/>
<rect x="643.8" y="897" width="2.3" height="49.9" fill="#0000FF"/>
<rect x="643.2" y="896.4" width="3.5" height="2.4" fill="#0000FF"/>
<rect x="641.2" y="945.9" width="7.5" height="259.8" fill="#0000FF"/>
<rect x="654.9" y="873.4" width="2.3" height="62.6" fill="#B000E8"/>
<rect x="654.3" y="872.8" width="3.5" height="2.4" fill="#B000E8"/>
<rect x="652.3" y="935" width="7.5" height="270.7" fill="#B000E8"/>
<rect x="666" y="885.9" width="2.3" height="70.5" fill="#F81480"/>
<rect x="665.4" y="885.3" width="3.5" height="2.4" fill="#F81480"/>
<rect x="663.4" y="955.4" width="7.5" height="250.3" fill="#F81480"/>
<rect x="677.1" y="945.4" width="2.3" height="3.3" fill="#8E5A1C"/>
<rect x="676.5" y="944.8" width="3.5" height="2.4" fill="#8E5A1C"/>
<rect x="674.5" y="947.7" width="7.5" height="258" fill="#8E5A1C"/>
<rect x="688.2" y="858.9" width="2.3" height="76" fill="#A00000"/>
<rect x="687.6" y="858.3" width="3.5" height="2.4" fill="#A00000"/>
<rect x="685.6" y="933.9" width="7.5" height="271.8" fill="#A00000"/>
<rect x="699.3" y="999.7" width="2.3" height="27.1" fill="#C05C00"/>
<rect x="698.7" y="999.1" width="3.5" height="2.4" fill="#C05C00"/>
<rect x="696.7" y="1025.8" width="7.5" height="179.9" fill="#C05C00"/>
<rect x="710.4" y="999.7" width="2.3" height="27.1" fill="#000080"/>
<rect x="709.8" y="999.1" width="3.5" height="2.4" fill="#000080"/>
<rect x="707.8" y="1025.8" width="7.5" height="179.9" fill="#000080"/>
<rect x="728.7" y="775" width="2.3" height="118" fill="#F0B47C"/>
<rect x="728.1" y="774.4" width="3.5" height="2.4" fill="#F0B47C"/>
<rect x="726.1" y="892" width="7.5" height="313.7" fill="#F0B47C"/>
<rect x="739.8" y="859.3" width="2.3" height="34.4" fill="#F83A3A"/>
<rect x="739.2" y="858.7" width="3.5" height="2.4" fill="#F83A3A"/>
<rect x="737.2" y="892.7" width="7.5" height="313" fill="#F83A3A"/>
<rect x="750.9" y="873.6" width="2.3" height="42.5" fill="#FF8000"/>
<rect x="750.3" y="873" width="3.5" height="2.4" fill="#FF8000"/>
<rect x="748.3" y="915.1" width="7.5" height="290.6" fill="#FF8000"/>
<rect x="762" y="919.7" width="2.3" height="20.2" fill="#FFFF00"/>
<rect x="761.4" y="919.1" width="3.5" height="2.4" fill="#FFFF00"/>
<rect x="759.4" y="938.9" width="7.5" height="266.8" fill="#FFFF00"/>
<rect x="773.1" y="845" width="2.3" height="55.7" fill="#00C000"/>
<rect x="772.5" y="844.4" width="3.5" height="2.4" fill="#00C000"/>
<rect x="770.5" y="899.7" width="7.5" height="306" fill="#00C000"/>
<rect x="784.2" y="851.6" width="2.3" height="67.1" fill="#0000FF"/>
<rect x="783.6" y="851" width="3.5" height="2.4" fill="#0000FF"/>
<rect x="781.6" y="917.7" width="7.5" height="288" fill="#0000FF"/>
<rect x="795.3" y="880.7" width="2.3" height="19.5" fill="#B000E8"/>
<rect x="794.7" y="880.1" width="3.5" height="2.4" fill="#B000E8"/>
<rect x="792.7" y="899.2" width="7.5" height="306.5" fill="#B000E8"/>
<rect x="806.4" y="903.6" width="2.3" height="17.1" fill="#F81480"/>
<rect x="805.8" y="903" width="3.5" height="2.4" fill="#F81480"/>
<rect x="803.8" y="919.7" width="7.5" height="286" fill="#F81480"/>
<rect x="817.5" y="874.7" width="2.3" height="48.3" fill="#8E5A1C"/>
<rect x="816.9" y="874.1" width="3.5" height="2.4" fill="#8E5A1C"/>
<rect x="814.9" y="922" width="7.5" height="283.7" fill="#8E5A1C"/>
<rect x="828.6" y="809.6" width="2.3" height="96.4" fill="#A00000"/>
<rect x="828" y="809" width="3.5" height="2.4" fill="#A00000"/>
<rect x="826" y="905" width="7.5" height="300.7" fill="#A00000"/>
<rect x="839.7" y="1002.4" width="2.3" height="14.4" fill="#C05C00"/>
<rect x="839.1" y="1001.8" width="3.5" height="2.4" fill="#C05C00"/>
<rect x="837.1" y="1015.8" width="7.5" height="189.9" fill="#C05C00"/>
<rect x="850.8" y="1002.4" width="2.3" height="14.4" fill="#000080"/>
<rect x="850.2" y="1001.8" width="3.5" height="2.4" fill="#000080"/>
<rect x="848.2" y="1015.8" width="7.5" height="189.9" fill="#000080"/>
<rect x="158.5" y="740" width="4.6" height="469.6" fill="#000"/>
<rect x="158.5" y="1205.1" width="703.5" height="4.6" fill="#000"/>
<rect x="140.3" y="739.9" width="20.5" height="4.2" fill="#000"/>
<text x="136" y="754.6" class="tk" text-anchor="end">30</text>
<rect x="140.3" y="895.25" width="20.5" height="4.2" fill="#000"/>
<text x="136" y="909.95" class="tk" text-anchor="end">20</text>
<rect x="140.3" y="1050.4" width="20.5" height="4.2" fill="#000"/>
<text x="136" y="1065.1" class="tk" text-anchor="end">10</text>
<rect x="140.3" y="1205.3" width="20.5" height="4.2" fill="#000"/>
<text x="136" y="1220" class="tk" text-anchor="end">0</text>
<rect x="225.8" y="1207.4" width="4.4" height="20.4" fill="#000"/>
<text x="228.3" y="1264.9" class="xl" text-anchor="middle">1d</text>
<rect x="366.5" y="1207.4" width="4.4" height="20.4" fill="#000"/>
<text x="369" y="1264.9" class="xl" text-anchor="middle">7d</text>
<rect x="507.4" y="1207.4" width="4.4" height="20.4" fill="#000"/>
<text x="509.9" y="1264.9" class="xl" text-anchor="middle">14d</text>
<rect x="647.8" y="1207.4" width="4.4" height="20.4" fill="#000"/>
<text x="650.3" y="1264.9" class="xl" text-anchor="middle">21d</text>
<rect x="788.4" y="1207.4" width="4.4" height="20.4" fill="#000"/>
<text x="790.9" y="1264.9" class="xl" text-anchor="middle">28d</text>
<rect x="589.5" y="793.7" width="99.1" height="4.2" fill="#000"/>
<rect x="642" y="726" width="4.2" height="61.7" fill="#000"/>
<rect x="642.4" y="725.9" width="66.3" height="4.2" fill="#000"/>
<rect x="704.5" y="726" width="4.2" height="251.8" fill="#000"/>
<rect x="695" y="984.4" width="21.9" height="4.2" fill="#000"/>
<path d="M675 704.6L675 714.4M670.76 707.05L679.24 711.95M670.76 711.95L679.24 707.05" stroke="#000" stroke-width="3.5" stroke-linecap="round" fill="none"/>
<rect x="719.3" y="757.1" width="122.1" height="4.2" fill="#000"/>
<rect x="783.9" y="706.3" width="4.2" height="46.5" fill="#000"/>
<rect x="784" y="706.3" width="66.5" height="4.2" fill="#000"/>
<rect x="846.3" y="706.3" width="4.2" height="251.1" fill="#000"/>
<rect x="836.8" y="988" width="21.7" height="4.2" fill="#000"/>
<path d="M815.4 678.6L815.4 688.2M811.24 681L819.56 685.8M811.24 685.8L819.56 681" stroke="#000" stroke-width="3.5" stroke-linecap="round" fill="none"/>
<text x="6" y="695.1" class="pl">B</text>
<rect x="887.6" y="786.5" width="49.6" height="18.1" fill="#F0B47C"/>
<text x="965.9" y="806.2" class="lg" textLength="120.5" lengthAdjust="spacingAndGlyphs">Vaccine</text>
<text x="1095.3" y="806.2" class="lg" textLength="251.3" lengthAdjust="spacingAndGlyphs">A+YL160304-OEV</text>
<rect x="887.6" y="820.3" width="49.6" height="17.6" fill="#F83A3A"/>
<text x="965.9" y="839" class="lg" textLength="120.5" lengthAdjust="spacingAndGlyphs">Vaccine</text>
<text x="1095.3" y="839" class="lg" textLength="250.3" lengthAdjust="spacingAndGlyphs">A+QZ191002-OEV</text>
<rect x="887.6" y="853" width="49.6" height="18.1" fill="#FF8000"/>
<text x="965.9" y="871.9" class="lg" textLength="120.5" lengthAdjust="spacingAndGlyphs">Vaccine</text>
<text x="1097" y="871.9" class="lg" textLength="250.3" lengthAdjust="spacingAndGlyphs">B+YL160304-OEV</text>
<rect x="887.6" y="887.9" width="49.6" height="18.1" fill="#FFFF00"/>
<text x="965.9" y="907.6" class="lg" textLength="120.5" lengthAdjust="spacingAndGlyphs">Vaccine</text>
<text x="1097" y="907.6" class="lg" textLength="250.3" lengthAdjust="spacingAndGlyphs">B+QZ191002-OEV</text>
<rect x="887.6" y="923.6" width="49.6" height="16.3" fill="#00C000"/>
<text x="966.5" y="940.7" class="lg" textLength="278.1" lengthAdjust="spacingAndGlyphs">YL160304-OEV+B87</text>
<rect x="887.6" y="960.7" width="49.6" height="16.3" fill="#0000FF"/>
<text x="964.9" y="975.5" class="lg" textLength="279.7" lengthAdjust="spacingAndGlyphs">QZ191002-OEV+B87</text>
<rect x="887.6" y="996.2" width="49.6" height="16" fill="#B000E8"/>
<text x="964.9" y="1014.6" class="lg" textLength="251.9" lengthAdjust="spacingAndGlyphs">NN1172-OEV+B87</text>
<rect x="887.6" y="1028.5" width="49.6" height="16.9" fill="#F81480"/>
<text x="966.5" y="1046.6" class="lg" textLength="434.6" lengthAdjust="spacingAndGlyphs">YL160304-OEV+YL160304-OEV</text>
<rect x="887.6" y="1062.6" width="49.6" height="16.1" fill="#8E5A1C"/>
<text x="964.9" y="1080" class="lg" textLength="436.2" lengthAdjust="spacingAndGlyphs">QZ191002-OEV+QZ191002-OEV</text>
<rect x="887.6" y="1093.9" width="49.6" height="17.9" fill="#A00000"/>
<text x="965.1" y="1113.9" class="lg" textLength="121.9" lengthAdjust="spacingAndGlyphs">Vaccine</text>
<text x="1096.5" y="1113.9" class="lg" textLength="23.7" lengthAdjust="spacingAndGlyphs">C</text>
<rect x="887.6" y="1129.9" width="49.6" height="16" fill="#C05C00"/>
<text x="964.3" y="1147.5" class="lg" textLength="56.4" lengthAdjust="spacingAndGlyphs">PBS</text>
<rect x="887.6" y="1163" width="49.6" height="16.5" fill="#000080"/>
<text x="964.3" y="1180.3" class="lg" textLength="95.3" lengthAdjust="spacingAndGlyphs">Control</text>
<text transform="translate(36,1182) rotate(-90)" class="yl" textLength="59.5" lengthAdjust="spacingAndGlyphs">CD8</text>
<text transform="translate(21.5,1122.8) rotate(-90)" class="yl sup">+</text>
<text transform="translate(36,1097) rotate(-90)" class="yl" textLength="333" lengthAdjust="spacingAndGlyphs">T lymphoctes percentage</text>
<text transform="translate(75,1096) rotate(-90)" class="yl" textLength="242.5" lengthAdjust="spacingAndGlyphs">in peripheral blood</text>
<text x="431.5" y="1329" class="dl" textLength="157.5" lengthAdjust="spacingAndGlyphs">Days of age</text>
</svg>
</body></html>
